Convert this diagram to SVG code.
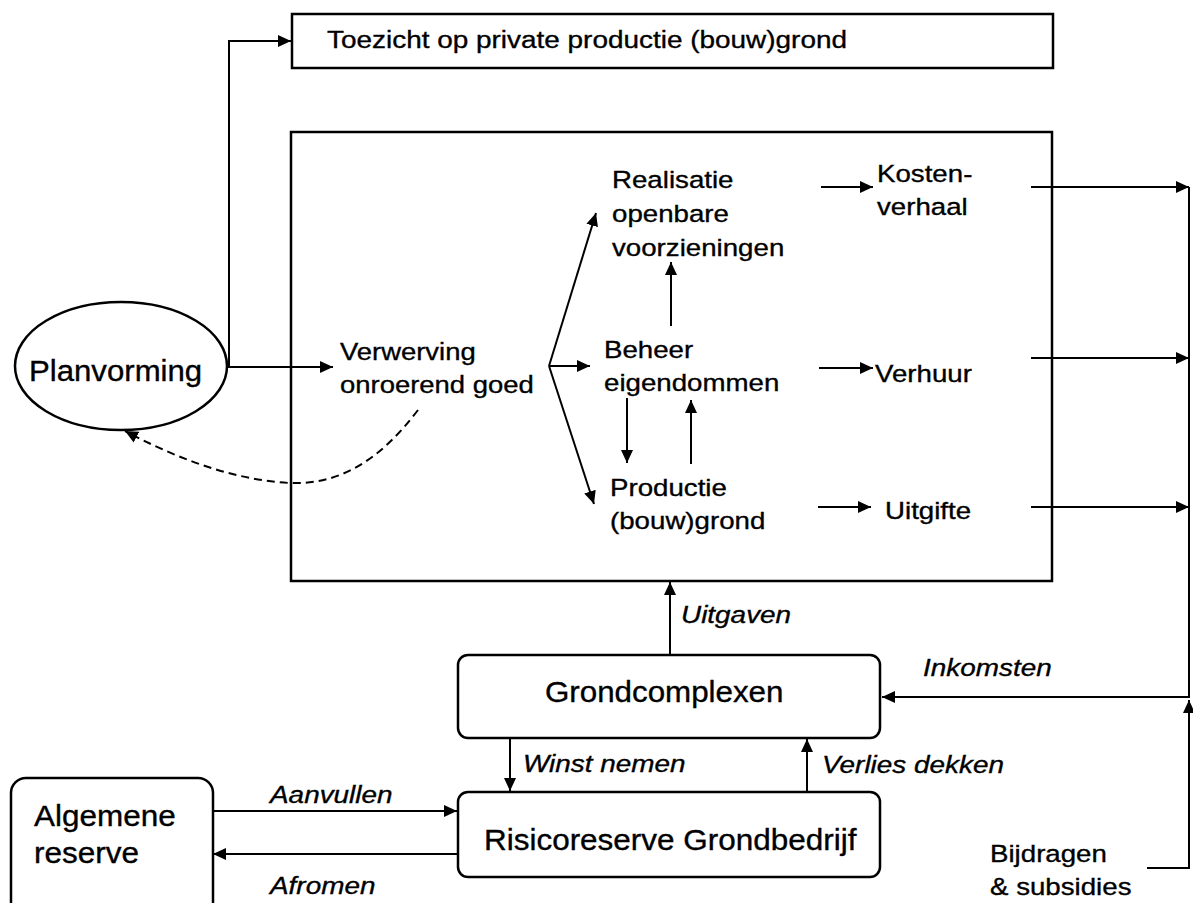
<svg xmlns="http://www.w3.org/2000/svg" width="1193" height="903" viewBox="0 0 1193 903">
<style>
.box{fill:#fff;stroke:#000;stroke-width:2.5}
.t{font-family:"Liberation Sans",Arial,sans-serif;font-size:24.5px;fill:#000;stroke:#000;stroke-width:0.35}
.tb{font-family:"Liberation Sans",Arial,sans-serif;font-size:29px;fill:#000;stroke:#000;stroke-width:0.35}
.ti{font-family:"Liberation Sans",Arial,sans-serif;font-size:24.7px;font-style:italic;fill:#000;stroke:#000;stroke-width:0.35}
.c{fill:none;stroke:#000;stroke-width:2}
.d{fill:none;stroke:#000;stroke-width:2;stroke-dasharray:8 5}
</style>
<defs>
<marker id="a" markerUnits="userSpaceOnUse" markerWidth="14" markerHeight="13" refX="13" refY="6.5" orient="auto">
<path d="M0,0.5 L13,6.5 L0,12.5 z" fill="#000"/>
</marker>
</defs>
<rect width="1193" height="903" fill="#fff"/>
<g id="toezicht">
<rect class="box" x="292" y="14" width="761" height="54"/>
<text class="t" transform="translate(327,48) scale(1.14,1)">Toezicht op private productie (bouw)grond</text>
</g>
<g id="hoofdkader">
<rect class="box" x="291" y="132" width="761" height="449"/>
</g>
<g id="planvorming">
<ellipse class="box" cx="121" cy="366" rx="106" ry="64"/>
<text class="tb" transform="translate(29,381) scale(1.075,1)">Planvorming</text>
</g>
<g id="verwerving">
<text class="t" transform="translate(340,360) scale(1.12,1)">Verwerving</text>
<text class="t" transform="translate(340,393) scale(1.12,1)">onroerend goed</text>
</g>
<g id="realisatie">
<text class="t" transform="translate(612,188) scale(1.13,1)">Realisatie</text>
<text class="t" transform="translate(612,222) scale(1.13,1)">openbare</text>
<text class="t" transform="translate(612,256) scale(1.13,1)">voorzieningen</text>
</g>
<g id="beheer">
<text class="t" transform="translate(604,358) scale(1.13,1)">Beheer</text>
<text class="t" transform="translate(604,391) scale(1.13,1)">eigendommen</text>
</g>
<g id="productie">
<text class="t" transform="translate(610,496) scale(1.13,1)">Productie</text>
<text class="t" transform="translate(610,529) scale(1.13,1)">(bouw)grond</text>
</g>
<g id="kostenverhaal">
<text class="t" transform="translate(877,182) scale(1.13,1)">Kosten-</text>
<text class="t" transform="translate(877,215) scale(1.13,1)">verhaal</text>
</g>
<g id="verhuur">
<text class="t" transform="translate(875,382) scale(1.13,1)">Verhuur</text>
</g>
<g id="uitgifte">
<text class="t" transform="translate(885,519) scale(1.13,1)">Uitgifte</text>
</g>
<g id="grondcomplexen">
<rect class="box" x="458" y="655" width="422" height="83" rx="10"/>
<text class="tb" transform="translate(545,701.5) scale(1.08,1)">Grondcomplexen</text>
</g>
<g id="risicoreserve">
<rect class="box" x="458" y="792" width="422" height="85" rx="10"/>
<text class="tb" transform="translate(484,850) scale(1.085,1)">Risicoreserve Grondbedrijf</text>
</g>
<g id="algemene">
<rect class="box" x="11" y="778" width="202" height="150" rx="15"/>
<text class="tb" transform="translate(34,826) scale(1.085,1)">Algemene</text>
<text class="tb" transform="translate(34,863) scale(1.085,1)">reserve</text>
</g>
<g id="bijdragen">
<text class="t" transform="translate(990,862) scale(1.13,1)">Bijdragen</text>
<text class="t" transform="translate(990,895) scale(1.13,1)">&amp; subsidies</text>
</g>
<g id="connectors">
<line class="c" x1="227" y1="367" x2="333" y2="367" marker-end="url(#a)"/>
<path class="c" d="M229,367 V41 H291" marker-end="url(#a)"/>
<path class="d" d="M418,410 C380,460 340,485 290,483 C230,480 170,455 125,431" marker-end="url(#a)"/>
<line class="c" x1="549" y1="366" x2="596" y2="213" marker-end="url(#a)"/>
<line class="c" x1="549" y1="366" x2="590" y2="366" marker-end="url(#a)"/>
<line class="c" x1="549" y1="366" x2="594" y2="504" marker-end="url(#a)"/>
<line class="c" x1="671" y1="326" x2="671" y2="262" marker-end="url(#a)"/>
<line class="c" x1="627" y1="398" x2="627" y2="463" marker-end="url(#a)"/>
<line class="c" x1="691" y1="464" x2="691" y2="400" marker-end="url(#a)"/>
<line class="c" x1="821" y1="187" x2="873" y2="187" marker-end="url(#a)"/>
<line class="c" x1="819" y1="368" x2="873" y2="368" marker-end="url(#a)"/>
<line class="c" x1="818" y1="507" x2="871" y2="507" marker-end="url(#a)"/>
<line class="c" x1="1031" y1="187" x2="1189" y2="187" marker-end="url(#a)"/>
<line class="c" x1="1031" y1="358" x2="1189" y2="358" marker-end="url(#a)"/>
<line class="c" x1="1031" y1="507" x2="1189" y2="507" marker-end="url(#a)"/>
<path class="c" d="M1189,187 V697 H882" marker-end="url(#a)"/>
<path class="c" d="M1147,868 H1189 V700" marker-end="url(#a)"/>
<line class="c" x1="670" y1="655" x2="670" y2="582" marker-end="url(#a)"/>
<line class="c" x1="510" y1="738" x2="510" y2="791" marker-end="url(#a)"/>
<line class="c" x1="807" y1="792" x2="807" y2="739" marker-end="url(#a)"/>
<line class="c" x1="213" y1="811" x2="457" y2="811" marker-end="url(#a)"/>
<line class="c" x1="457" y1="854" x2="213" y2="854" marker-end="url(#a)"/>
<text class="ti" transform="translate(681,622.5) scale(1.13,1)">Uitgaven</text>
<text class="ti" transform="translate(923,676) scale(1.13,1)">Inkomsten</text>
<text class="ti" transform="translate(523,772) scale(1.13,1)">Winst nemen</text>
<text class="ti" transform="translate(822,773) scale(1.13,1)">Verlies dekken</text>
<text class="ti" transform="translate(270,803) scale(1.13,1)">Aanvullen</text>
<text class="ti" transform="translate(270,894) scale(1.13,1)">Afromen</text>
</g>
</svg>
